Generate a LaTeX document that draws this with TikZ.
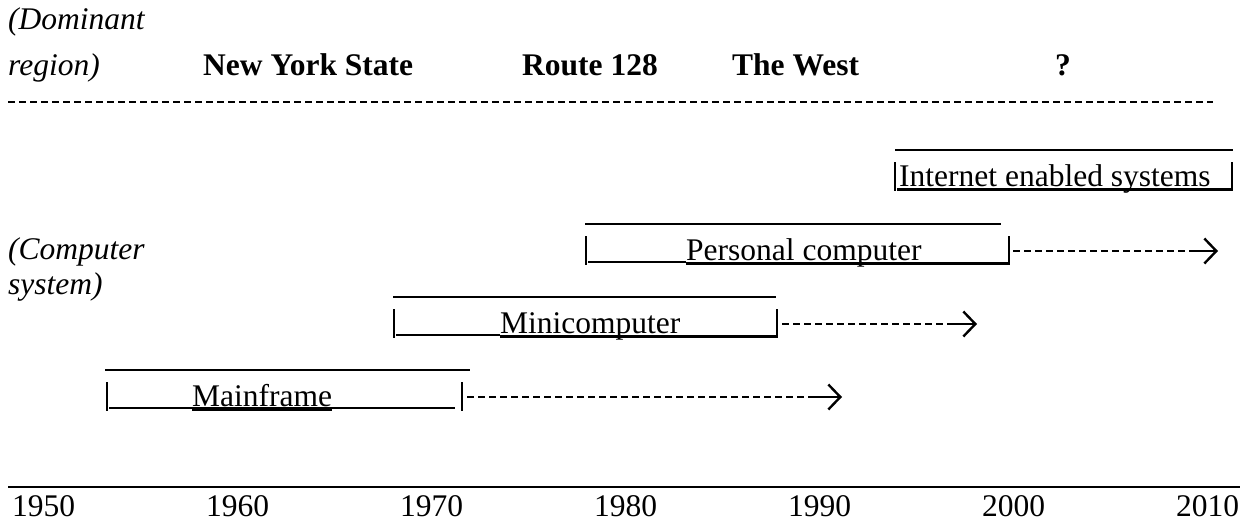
\documentclass[tikz,border=0pt]{standalone}
\usepackage{fontspec}
\setmainfont{Liberation Serif}
\usetikzlibrary{arrows.meta}
\begin{document}
\begin{tikzpicture}[x=1pt,y=-1pt,
  txt/.style={anchor=base west, inner sep=0pt, font=\fontsize{31.5}{36}\selectfont},
  hd/.style={txt, font=\fontsize{31.5}{36}\selectfont\bfseries},
  itl/.style={txt, font=\fontsize{31.5}{36}\selectfont\itshape},
  thinline/.style={line width=1.3pt},
  ulthick/.style={line width=2.2pt},
  barline/.style={line width=1.3pt},
  hyph/.style={line width=2pt, dash pattern=on 7.3pt off 3.7pt},
  arrowglyph/.style={line width=2.4pt, -{Straight Barb[length=12pt,width=25pt,line width=2.4pt]}}
]
\useasboundingbox (0,0) rectangle (1244,522);
\fill[white] (0,0) rectangle (1244,522);

% header
\node[itl] (dom) at (8,29) {(Dominant};
\node[itl] (reg) at (8,75) {region)};
\node[hd] (nys) at (203,75) {New York State};
\node[hd] (r128) at (522,75) {Route 128};
\node[hd] (west) at (732,75) {The West};
\node[hd] (q) at (1055,75) {?};
\coordinate (hdL) at (8,102);
\coordinate (hdR) at (1213,102);
\draw[hyph] (hdL) -- (hdR);

% left labels
\node[itl] (comp) at (8,259) {(Computer};
\node[itl] (sys) at (8,294) {system)};

% Internet enabled systems
\coordinate (inTL) at (895,150);
\coordinate (inTR) at (1233,150);
\draw[thinline] (inTL) -- (inTR);
\draw[barline] (895,162) -- (895,191);
\draw[barline] (1232,162) -- (1232,191);
\node[txt] (inet) at (899,186) {Internet enabled systems};
\draw[ulthick] (897,189.5) -- (1231,189.5);

% Personal computer
\draw[thinline] (585,224) -- (1001,224);
\draw[barline] (586,236) -- (586,265);
\draw[thinline] (588,262) -- (686,262);
\node[txt] (pc) at (686,260) {Personal computer};
\draw[ulthick] ([yshift=-3.5pt]pc.base west) -- (1008,263.5);
\draw[barline] (1009,236) -- (1009,265);
\coordinate (pcR) at (1013,251);
\coordinate (pcA) at (1190,251);
\coordinate (pcT) at (1218,251);
\draw[hyph] (pcR) -- (pcA);
\draw[arrowglyph] (pcA) -- (pcT);

% Minicomputer
\draw[thinline] (393,297) -- (776,297);
\draw[barline] (394,309) -- (394,338);
\draw[thinline] (396,335) -- (500,335);
\node[txt] (mini) at (500,333) {Minicomputer};
\draw[ulthick] ([yshift=-3.5pt]mini.base west) -- (776,336.5);
\draw[barline] (777,309) -- (777,338);
\coordinate (miR) at (782,324);
\coordinate (miA) at (949,324);
\coordinate (miT) at (977,324);
\draw[hyph] (miR) -- (miA);
\draw[arrowglyph] (miA) -- (miT);

% Mainframe
\draw[thinline] (105,370) -- (470,370);
\draw[barline] (107,382) -- (107,411);
\draw[thinline] (109,408) -- (455,408);
\node[txt] (mf) at (192,406) {Mainframe};
\draw[ulthick] ([yshift=-3.5pt]mf.base west) -- ([yshift=-3.5pt]mf.base east);
\draw[barline] (462,382) -- (462,411);
\coordinate (mfR) at (467,397);
\coordinate (mfA) at (814,397);
\coordinate (mfT) at (842,397);
\draw[hyph] (mfR) -- (mfA);
\draw[arrowglyph] (mfA) -- (mfT);

% time axis
\coordinate (axL) at (8,487);
\coordinate (axR) at (1240,487);
\draw[thinline] (axL) -- (axR);
\foreach \yr [count=\i from 0] in {1950,1960,1970,1980,1990,2000,2010}
  \node[txt] (y\yr) at (12+194*\i,516) {\yr};
\end{tikzpicture}
\end{document}
